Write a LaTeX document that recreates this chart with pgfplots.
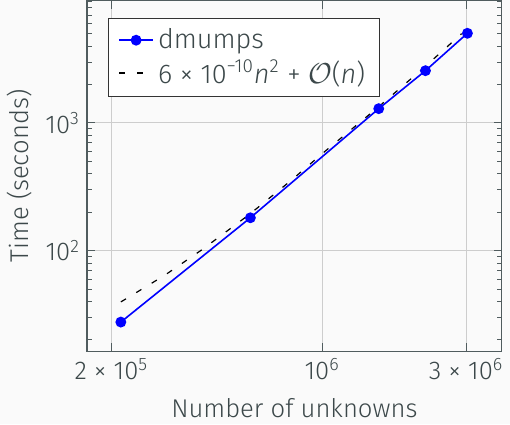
\documentclass[border=0pt]{standalone}
\usepackage{fontspec}
\setmainfont{Fira Sans}[UprightFont={* Light}, ItalicFont={* Light Italic}]
\usepackage{pgfplots}
\pgfplotsset{compat=1.18}
\usetikzlibrary{backgrounds}
\definecolor{txt}{RGB}{60,72,74}
\definecolor{axc}{RGB}{80,92,94}
\definecolor{gridc}{RGB}{205,205,205}
\definecolor{bg}{RGB}{250,250,250}
\begin{document}
\begin{tikzpicture}[background rectangle/.style={fill=bg}, show background rectangle, inner frame sep=0pt]
\begin{axis}[
  scale only axis,
  width=207pt, height=175pt,
  xmode=log, ymode=log,
  xmin=1.66e5, xmax=3.94e6,
  ymin=16.3, ymax=9080,
  xtick={2e5,1e6,3e6},
  xticklabels={2\;×\;10\textsuperscript{5}, 10\textsuperscript{6}, 3\;×\;10\textsuperscript{6}},
  ytick={100,1000},
  yticklabels={10\textsuperscript{2}, 10\textsuperscript{3}},
  minor xtick={},
  minor ytick={20,30,40,50,60,70,80,90,200,300,400,500,600,700,800,900,2000,3000,4000,5000,6000,7000,8000,9000},
  xmajorgrids, ymajorgrids,
  grid style={gridc, line width=0.5pt},
  axis line style={axc, line width=0.6pt},
  tick style={axc, line width=0.5pt},
  major tick length=4pt, minor tick length=2.5pt,
  tick align=inside,
  ticklabel style={font=\fontsize{12.8}{14}\selectfont, text=txt},
  label style={font=\fontsize{12.8}{14}\selectfont, text=txt},
  xlabel={Number of unknowns},
  ylabel={Time (seconds)},
  xlabel style={yshift=-2.5pt},
  legend style={at={(0.05,0.95)}, anchor=north west, draw=black!80, line width=0.5pt, fill=white, font=\fontsize{13.5}{17}\selectfont, text=txt, inner xsep=5pt, inner ysep=3pt, row sep=0pt},
  legend cell align=left,
]
\addplot[blue, line width=0.8pt, mark=*, mark size=2.3pt, mark options={fill=blue}]
coordinates {
(2.15e5,27.6)
(5.78e5,181)
(1.54e6,1294)
(2.20e6,2566)
(3.03e6,5036)
};
\addlegendentry{dmumps}
\addplot[black, dash pattern=on 3pt off 6pt, line width=0.6pt]
coordinates {
(2.15e5,39.7)
(3.0e5,64)
(4.0e5,102)
(5.78e5,195)
(8.0e5,365)
(1.0e6,575)
(1.54e6,1340)
(2.2e6,2780)
(2.9e6,5000)
};
\addlegendentry{6 × 10\textsuperscript{−10}\textit{n}\textsuperscript{2} + $\mathcal{O}$(\textit{n})\hspace{3pt}}
\end{axis}
\end{tikzpicture}
\end{document}
